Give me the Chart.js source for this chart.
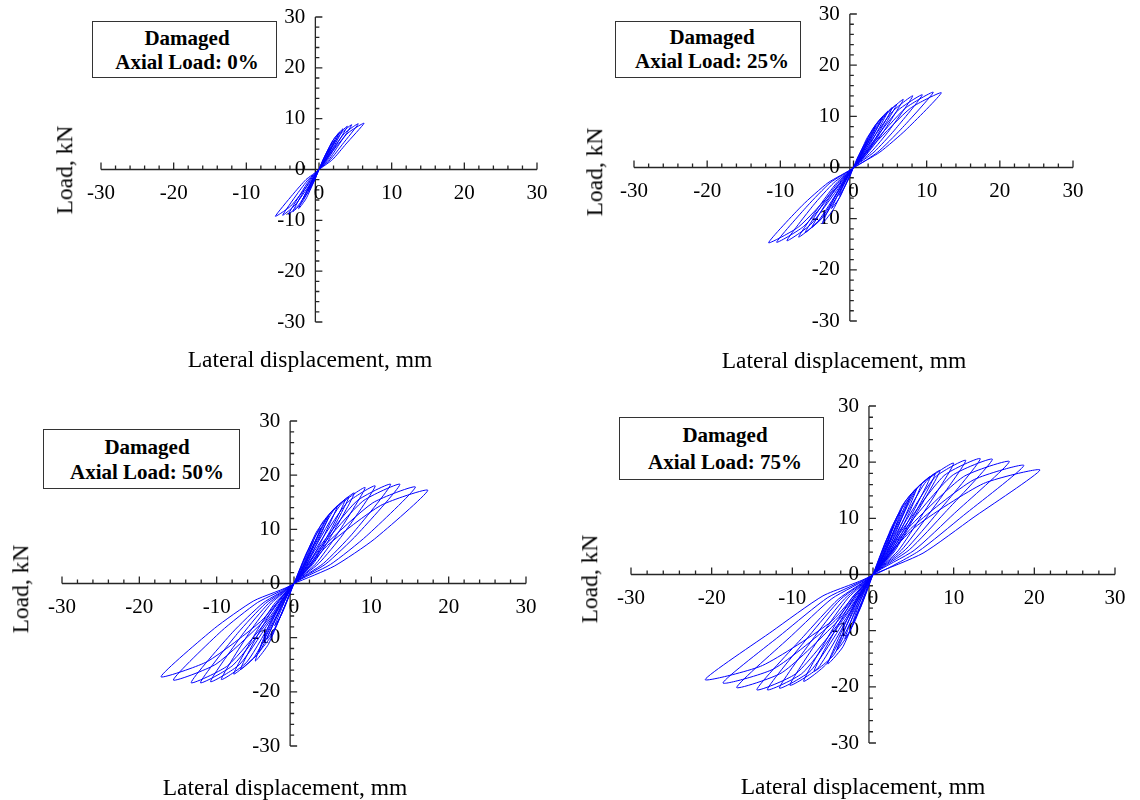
<!DOCTYPE html>
<html>
<head>
<meta charset="utf-8">
<title>Damaged specimens - load vs lateral displacement</title>
<script src="https://cdn.jsdelivr.net/npm/chart.js@4.4.1/dist/chart.umd.min.js"></script>
<style>
  body { margin: 0; background: #fff; }
  #figure { position: relative; width: 1140px; height: 800px; overflow: hidden;
            font-family: 'Liberation Serif', 'Times New Roman', serif; color: #000; }
  .panel { position: absolute; }
  .lbl { position: absolute; white-space: nowrap; line-height: 1; transform: translate(-50%, -50%); }
  .xt { font-size: 23.5px; }
  .yt { font-size: 23.5px; transform: translate(-50%, -50%) rotate(-90deg); }
  .box { position: absolute; border: 1.3px solid #333; box-sizing: border-box; background: #fff; }
  .bt { font-size: 21px; font-weight: bold; }
</style>
</head>
<body>
<div id="figure"></div>
<script>
// ── Data: load (kN) vs lateral displacement (mm), one leaf per line ──────────
const TICK_VALUES = [-30, -20, -10, 0, 10, 20, 30];

// Axial load 0%
const loops0 = [
    [0, 0],
    [0.4, 1.4], [1.0, 3.1], [1.5, 4.2], [0.9, 2.3], [0.45, 1.0], [0, 0],
    [-0.4, -1.4], [-1.0, -3.1], [-1.5, -4.2], [-0.9, -2.3], [-0.45, -1.0], [0, 0],
    [0.55, 1.9], [1.4, 4.3], [2.2, 5.8], [1.3, 3.2], [0.65, 1.4], [0, 0],
    [-0.55, -1.9], [-1.4, -4.3], [-2.2, -5.8], [-1.3, -3.2], [-0.65, -1.4], [0, 0],
    [0.7, 2.3], [1.8, 5.5], [2.8, 7.3], [1.7, 4.0], [0.85, 1.7], [0, 0],
    [-0.7, -2.4], [-1.8, -5.8], [-2.8, -7.7], [-1.7, -4.2], [-0.85, -1.8], [0, 0],
    [0.8, 2.5], [2.1, 6.1], [3.3, 8.0], [2.0, 4.4], [1.0, 1.9], [0, 0],
    [-0.9, -2.6], [-2.3, -6.4], [-3.6, -8.3], [-2.2, -4.5], [-1.1, -1.9], [0, 0],
    [1.0, 2.7], [2.5, 6.6], [3.9, 8.5], [2.3, 4.6], [1.2, 2.0], [0, 0],
    [-1.05, -2.8], [-2.7, -6.8], [-4.2, -8.8], [-2.5, -4.7], [-1.3, -2.0], [0, 0],
    [1.1, 2.8], [2.9, 6.9], [4.5, 8.8], [2.7, 4.8], [1.4, 2.0], [0, 0],
    [-1.25, -2.9], [-3.3, -7.0], [-5.0, -9.0], [-3.0, -4.8], [-1.5, -2.0], [0, 0],
    [1.4, 3.0], [3.5, 7.1], [5.4, 9.0], [3.2, 4.9], [1.6, 2.0], [0, 0],
    [-1.5, -3.0], [-3.9, -7.2], [-6.0, -9.2], [-3.6, -4.9], [-1.8, -2.0], [0, 0],
    [1.6, 3.1], [4.0, 7.2], [6.2, 9.1], [3.7, 5.0], [1.9, 2.0], [0, 0],
];

// Axial load 25%
const loops25 = [
    [0, 0],
    [0.5, 1.8], [1.3, 4.0], [2.0, 5.5], [1.2, 3.0], [0.6, 1.3], [0, 0],
    [-0.5, -1.8], [-1.3, -4.0], [-2.0, -5.5], [-1.2, -3.0], [-0.6, -1.3], [0, 0],
    [0.8, 2.5], [1.9, 5.9], [3.0, 8.0], [1.8, 4.4], [0.9, 1.9], [0, 0],
    [-0.8, -2.5], [-1.9, -5.9], [-3.0, -8.0], [-1.8, -4.4], [-0.9, -1.9], [0, 0],
    [1.0, 3.0], [2.6, 7.5], [4.0, 10.0], [2.4, 5.4], [1.2, 2.3], [0, 0],
    [-1.1, -3.4], [-2.8, -8.3], [-4.3, -11.0], [-2.6, -5.9], [-1.3, -2.5], [0, 0],
    [1.2, 3.3], [3.0, 8.3], [4.7, 11.0], [2.8, 5.9], [1.4, 2.5], [0, 0],
    [-1.4, -3.5], [-3.7, -9.0], [-5.7, -11.7], [-3.4, -6.2], [-1.7, -2.6], [0, 0],
    [1.3, 3.5], [3.4, 8.9], [5.3, 11.7], [3.2, 6.2], [1.6, 2.6], [0, 0],
    [-1.7, -3.8], [-4.3, -9.8], [-6.6, -12.7], [-4.0, -6.7], [-2.0, -2.8], [0, 0],
    [1.5, 3.7], [3.8, 9.4], [5.9, 12.3], [3.5, 6.5], [1.8, 2.7], [0, 0],
    [-1.9, -4.1], [-4.9, -10.6], [-7.5, -13.6], [-4.5, -7.2], [-2.3, -3.0], [0, 0],
    [1.7, 4.0], [4.4, 10.3], [6.8, 13.3], [4.1, 7.0], [2.0, 2.9], [0, 0],
    [-2.3, -4.5], [-5.9, -11.2], [-9.1, -14.3], [-5.5, -7.4], [-2.7, -3.0], [0, 0],
    [2.0, 4.3], [5.3, 10.9], [8.1, 14.0], [4.9, 7.3], [2.4, 3.0], [0, 0],
    [-2.6, -4.6], [-6.8, -11.5], [-10.5, -14.6], [-6.3, -7.5], [-3.2, -3.0], [0, 0],
    [2.4, 4.5], [6.1, 11.2], [9.4, 14.2], [5.6, 7.3], [2.8, 3.0], [0, 0],
    [-2.9, -4.8], [-7.5, -11.6], [-11.6, -14.7], [-7.0, -7.4], [-3.5, -3.0], [0, 0],
    [2.7, 4.7], [7.1, 11.6], [10.9, 14.7], [6.5, 7.5], [3.3, 3.0], [0, 0],
    [3.0, 4.8], [7.8, 11.6], [12.0, 14.6], [7.2, 7.4], [3.6, 3.0], [0, 0],
];

// Axial load 50%
const loops50 = [
    [0, 0],
    [0.7, 2.5], [1.6, 5.6], [2.5, 7.8], [1.5, 4.3], [0.8, 1.9], [0, 0],
    [-0.7, -2.6], [-1.6, -5.7], [-2.5, -7.8], [-1.5, -4.3], [-0.8, -1.9], [0, 0],
    [0.9, 3.1], [2.3, 7.7], [3.5, 10.3], [2.1, 5.6], [1.1, 2.4], [0, 0],
    [-0.9, -3.2], [-2.3, -7.8], [-3.5, -10.3], [-2.1, -5.6], [-1.1, -2.4], [0, 0],
    [1.1, 3.7], [2.9, 9.5], [4.5, 12.5], [2.7, 6.6], [1.4, 2.8], [0, 0],
    [-1.1, -3.8], [-2.9, -9.6], [-4.5, -12.5], [-2.7, -6.6], [-1.4, -2.8], [0, 0],
    [1.4, 4.3], [3.6, 11.1], [5.6, 14.3], [3.4, 7.4], [1.7, 3.1], [0, 0],
    [-1.3, -4.5], [-3.3, -11.2], [-5.0, -14.3], [-3.2, -7.6], [-1.6, -3.1], [0, 0],
    [1.7, 4.7], [4.3, 12.3], [6.6, 15.4], [4.0, 7.9], [2.0, 3.3], [0, 0],
    [-1.8, -4.9], [-4.5, -12.7], [-6.9, -15.8], [-4.2, -8.2], [-2.1, -3.4], [0, 0],
    [1.8, 4.9], [4.6, 12.8], [7.1, 16.0], [4.3, 8.2], [2.2, 3.4], [0, 0],
    [-2.0, -5.2], [-5.1, -13.5], [-7.8, -16.7], [-4.7, -8.5], [-2.4, -3.5], [0, 0],
    [2.0, 5.2], [5.1, 13.5], [7.8, 16.7], [4.7, 8.5], [2.4, 3.5], [0, 0],
    [-2.4, -5.7], [-6.1, -14.5], [-9.4, -17.7], [-5.7, -8.9], [-2.9, -3.6], [0, 0],
    [2.3, 5.6], [6.0, 14.5], [9.2, 17.7], [5.5, 8.9], [2.8, 3.6], [0, 0],
    [-2.7, -6.0], [-7.0, -14.9], [-10.8, -18.1], [-6.5, -9.1], [-3.3, -3.7], [0, 0],
    [2.6, 5.9], [6.8, 14.8], [10.5, 18.0], [6.3, 9.0], [3.2, 3.7], [0, 0],
    [-3.0, -6.3], [-7.9, -15.1], [-12.1, -18.3], [-7.3, -9.2], [-3.7, -3.7], [0, 0],
    [3.1, 6.4], [8.1, 15.2], [12.5, 18.3], [7.5, 9.1], [3.8, 3.7], [0, 0],
    [-3.3, -6.5], [-8.6, -15.2], [-13.3, -18.3], [-8.0, -9.1], [-4.0, -3.6], [0, 0],
    [3.4, 6.6], [8.9, 15.2], [13.7, 18.3], [8.2, 9.1], [4.1, 3.6], [0, 0],
    [-3.9, -6.9], [-10.1, -14.9], [-15.6, -17.8], [-9.4, -8.8], [-4.7, -3.5], [0, 0],
    [3.9, 6.9], [10.2, 14.9], [15.7, 17.8], [9.4, 8.8], [4.7, 3.5], [0, 0],
    [-4.3, -7.0], [-11.2, -14.4], [-17.2, -17.2], [-10.3, -8.3], [-5.2, -3.2], [0, 0],
    [4.3, 7.0], [11.2, 14.4], [17.3, 17.2], [10.4, 8.2], [5.2, 3.2], [0, 0],
];

// Axial load 75%
const loops75 = [
    [0, 0],
    [0.7, 2.7], [1.6, 6.0], [2.5, 8.5], [1.6, 4.8], [0.8, 2.0], [0, 0],
    [-0.7, -2.8], [-1.6, -6.1], [-2.5, -8.5], [-1.6, -4.8], [-0.8, -2.0], [0, 0],
    [0.9, 3.3], [2.3, 8.4], [3.5, 11.5], [2.2, 6.3], [1.1, 2.6], [0, 0],
    [-0.9, -3.4], [-2.3, -8.5], [-3.5, -11.5], [-2.2, -6.3], [-1.1, -2.6], [0, 0],
    [1.1, 3.9], [3.0, 10.4], [4.5, 13.5], [2.8, 7.4], [1.4, 3.0], [0, 0],
    [-1.1, -4.0], [-3.0, -10.5], [-4.5, -13.5], [-2.8, -7.4], [-1.4, -3.0], [0, 0],
    [1.4, 4.6], [3.6, 12.2], [5.4, 15.3], [3.3, 8.2], [1.7, 3.4], [0, 0],
    [-1.4, -4.8], [-3.7, -12.8], [-5.6, -15.9], [-3.4, -8.6], [-1.7, -3.5], [0, 0],
    [1.5, 4.8], [4.0, 13.0], [6.0, 16.1], [3.7, 8.6], [1.9, 3.5], [0, 0],
    [-1.8, -5.4], [-4.8, -14.2], [-7.3, -17.2], [-4.4, -9.2], [-2.2, -3.8], [0, 0],
    [1.8, 5.3], [4.7, 14.2], [7.1, 17.4], [4.3, 9.3], [2.2, 3.8], [0, 0],
    [-2.2, -5.9], [-5.7, -15.8], [-8.6, -19.0], [-5.2, -10.2], [-2.6, -4.1], [0, 0],
    [1.9, 5.4], [5.1, 14.8], [7.7, 17.9], [4.7, 9.6], [2.4, 3.9], [0, 0],
    [-2.6, -6.4], [-6.8, -16.6], [-10.3, -19.7], [-6.2, -10.4], [-3.1, -4.2], [0, 0],
    [2.1, 5.7], [5.5, 15.4], [8.3, 18.5], [5.0, 9.9], [2.6, 4.0], [0, 0],
    [-2.9, -6.8], [-7.7, -17.1], [-11.6, -20.2], [-7.0, -10.6], [-3.5, -4.3], [0, 0],
    [2.5, 6.3], [6.6, 16.6], [10.0, 19.8], [6.0, 10.4], [3.1, 4.2], [0, 0],
    [-3.3, -7.2], [-8.7, -17.5], [-13.1, -20.5], [-7.9, -10.9], [-4.0, -4.4], [0, 0],
    [2.9, 6.8], [7.6, 17.2], [11.5, 20.3], [6.9, 10.7], [3.5, 4.3], [0, 0],
    [-3.6, -7.5], [-9.5, -17.6], [-14.4, -20.5], [-8.6, -11.0], [-4.3, -4.4], [0, 0],
    [3.3, 7.3], [8.8, 17.6], [13.3, 20.6], [8.0, 11.0], [4.0, 4.4], [0, 0],
    [-4.2, -8.0], [-11.2, -17.4], [-16.9, -20.1], [-10.1, -10.9], [-5.1, -4.3], [0, 0],
    [3.7, 7.6], [9.8, 17.6], [14.8, 20.5], [8.9, 11.0], [4.5, 4.4], [0, 0],
    [-4.7, -8.2], [-12.3, -16.8], [-18.6, -19.3], [-11.2, -10.5], [-5.6, -4.1], [0, 0],
    [4.2, 8.0], [11.2, 17.4], [16.9, 20.1], [10.1, 10.9], [5.1, 4.3], [0, 0],
    [-5.2, -8.4], [-13.7, -16.2], [-20.8, -18.7], [-12.5, -10.1], [-6.2, -3.8], [0, 0],
    [4.7, 8.2], [12.4, 16.8], [18.7, 19.4], [11.2, 10.5], [5.6, 4.1], [0, 0],
    [5.2, 8.4], [13.7, 16.2], [20.7, 18.6], [12.4, 10.1], [6.2, 3.8], [0, 0],
];

// ── Style ────────────────────────────────────────────────────────────────────
const LINE_COLOR = '#0000ff';
const AXIS_COLOR = '#262626';
const Y_AXIS_AT  = -0.5;     // the vertical axis sits just left of zero
const TICK_FONT  = "21px 'Liberation Serif', 'Times New Roman', serif";

// Layout of the four panels (page pixels). area = plot box [left, top, right, bottom]
const PANELS = [
    { data: loops0,  label: 'Axial Load: 0%',  left: 0,   top: 0,   w: 570, h: 390,
      area: [101, 17, 537, 322],  box: [92, 21, 185, 57],  text: [187, 38, 62],  ylab: [65, 170],  xlab: [310, 360] },
    { data: loops25, label: 'Axial Load: 25%', left: 570, top: 0,   w: 570, h: 390,
      area: [634, 14, 1073, 321], box: [615, 21, 186, 57], text: [712, 37, 61],  ylab: [595, 172], xlab: [844, 361] },
    { data: loops50, label: 'Axial Load: 50%', left: 0,   top: 390, w: 570, h: 410,
      area: [62, 421, 526, 746],  box: [43, 429, 197, 60], text: [147, 447, 472], ylab: [21, 589], xlab: [285, 788] },
    { data: loops75, label: 'Axial Load: 75%', left: 570, top: 390, w: 570, h: 410,
      area: [631, 406, 1115, 743], box: [619, 417, 205, 63], text: [725, 435, 462], ylab: [590, 579], xlab: [863, 787] },
];

// ── Crossed axes with inward ticks ───────────────────────────────────────────
const crossAxes = {
    id: 'crossAxes',
    beforeDatasetsDraw(chart) {
        const { ctx, scales: { x, y } } = chart;
        const ax = x.getPixelForValue(Y_AXIS_AT);
        const ay = y.getPixelForValue(0);
        ctx.save();
        ctx.strokeStyle = AXIS_COLOR;
        ctx.lineWidth = 1.3;
        ctx.beginPath();
        ctx.moveTo(x.getPixelForValue(-30), ay); ctx.lineTo(x.getPixelForValue(30), ay);
        ctx.moveTo(ax, y.getPixelForValue(30));  ctx.lineTo(ax, y.getPixelForValue(-30));
        for (let v = -30; v <= 30; v += 2) {
            const len = v % 10 === 0 ? 7 : 4;
            const px = x.getPixelForValue(v), py = y.getPixelForValue(v);
            ctx.moveTo(px, ay); ctx.lineTo(px, ay - len);
            ctx.moveTo(ax, py); ctx.lineTo(ax + len, py);
        }
        ctx.stroke();

        ctx.fillStyle = '#000';
        ctx.font = TICK_FONT;
        ctx.textBaseline = 'middle';
        ctx.textAlign = 'center';
        TICK_VALUES.forEach(v => ctx.fillText(String(v), x.getPixelForValue(v), ay + 24));
        ctx.textAlign = 'right';
        TICK_VALUES.forEach(v => ctx.fillText(String(v), ax - 10, y.getPixelForValue(v)));
        ctx.restore();
    }
};

// ── Build ────────────────────────────────────────────────────────────────────
const figure = document.getElementById('figure');

function addLabel(text, cx, cy, cls) {
    const d = document.createElement('div');
    d.className = 'lbl ' + cls;
    d.textContent = text;
    d.style.left = cx + 'px';
    d.style.top  = cy + 'px';
    figure.appendChild(d);
}

PANELS.forEach(p => {
    const wrap = document.createElement('div');
    wrap.className = 'panel';
    Object.assign(wrap.style, { left: p.left + 'px', top: p.top + 'px', width: p.w + 'px', height: p.h + 'px' });
    const canvas = document.createElement('canvas');
    canvas.width = p.w;
    canvas.height = p.h;
    wrap.appendChild(canvas);
    figure.appendChild(wrap);

    new Chart(canvas, {
        type: 'line',
        data: {
            datasets: [{
                data: p.data.map(([x, y]) => ({ x, y })),
                borderColor: LINE_COLOR,
                borderWidth: 1,
                pointRadius: 0,
                tension: 0.2,
                fill: false,
            }]
        },
        options: {
            responsive: false,
            animation: false,
            events: [],
            layout: { padding: {
                left: p.area[0] - p.left, top: p.area[1] - p.top,
                right: p.left + p.w - p.area[2], bottom: p.top + p.h - p.area[3] } },
            plugins: { legend: { display: false }, tooltip: { enabled: false } },
            scales: {
                x: { type: 'linear', min: -30, max: 30, display: false },
                y: { type: 'linear', min: -30, max: 30, display: false },
            }
        },
        plugins: [crossAxes]
    });

    const box = document.createElement('div');
    box.className = 'box';
    Object.assign(box.style, { left: p.box[0] + 'px', top: p.box[1] + 'px', width: p.box[2] + 'px', height: p.box[3] + 'px' });
    figure.appendChild(box);
    addLabel('Damaged', p.text[0], p.text[1], 'bt');
    addLabel(p.label, p.text[0], p.text[2], 'bt');

    addLabel('Load, kN', p.ylab[0], p.ylab[1], 'yt');
    addLabel('Lateral displacement, mm', p.xlab[0], p.xlab[1], 'xt');
});
</script>
</body>
</html>
